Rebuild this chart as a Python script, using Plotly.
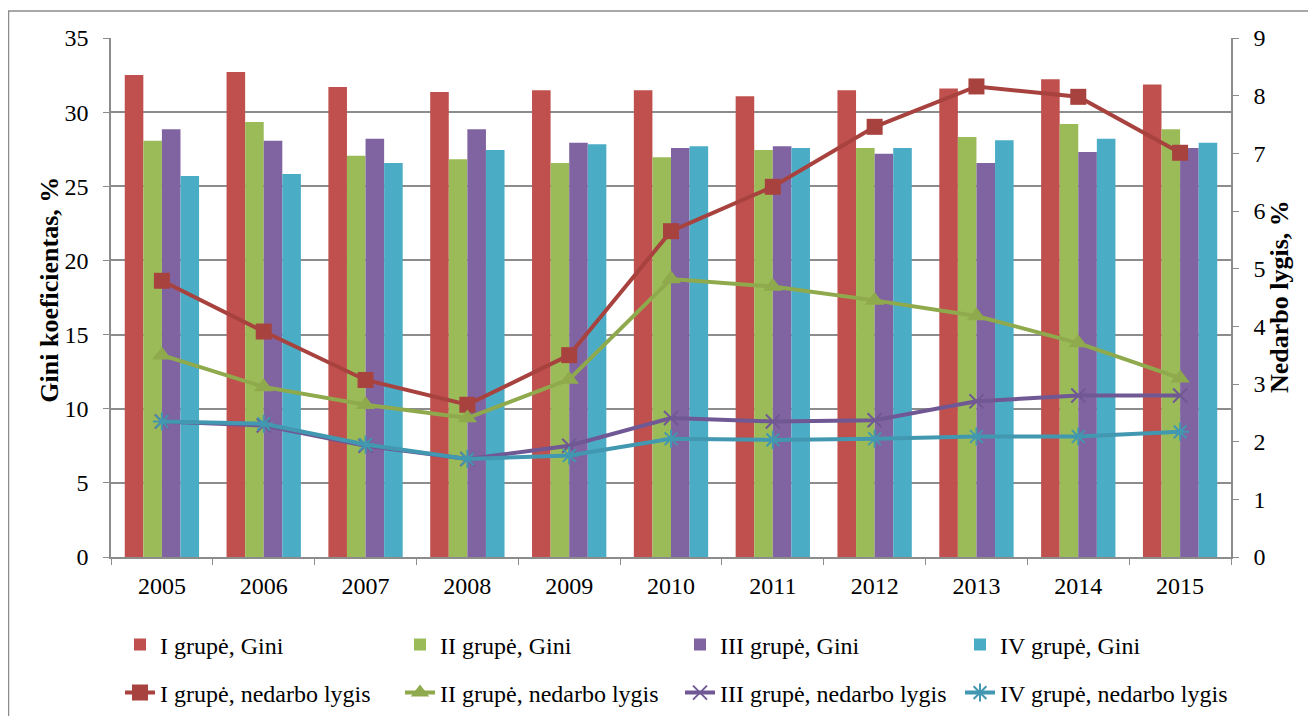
import plotly.graph_objects as go

years = ["2005", "2006", "2007", "2008", "2009", "2010", "2011", "2012", "2013", "2014", "2015"]

gini_I = [32.5, 32.7, 31.7, 31.35, 31.47, 31.47, 31.08, 31.47, 31.6, 32.21, 31.87]
gini_II = [28.07, 29.33, 27.06, 26.82, 26.57, 26.95, 27.45, 27.58, 28.32, 29.2, 28.84]
gini_III = [28.84, 28.07, 28.21, 28.84, 27.94, 27.58, 27.7, 27.2, 26.57, 27.31, 27.58]
gini_IV = [25.69, 25.83, 26.57, 27.45, 27.83, 27.7, 27.58, 27.58, 28.1, 28.21, 27.94]

unemp_I = [4.79, 3.91, 3.07, 2.64, 3.5, 5.65, 6.42, 7.46, 8.16, 7.98, 7.01]
unemp_II = [3.5, 2.95, 2.64, 2.41, 3.08, 4.82, 4.69, 4.45, 4.18, 3.71, 3.10]
unemp_III = [2.35, 2.28, 1.93, 1.70, 1.93, 2.41, 2.35, 2.37, 2.70, 2.80, 2.80]
unemp_IV = [2.35, 2.31, 1.95, 1.70, 1.76, 2.05, 2.03, 2.05, 2.09, 2.09, 2.17]

bar_names = ["I grupė, Gini", "II grupė, Gini", "III grupė, Gini", "IV grupė, Gini"]
line_names = ["I grupė, nedarbo lygis", "II grupė, nedarbo lygis",
              "III grupė, nedarbo lygis", "IV grupė, nedarbo lygis"]

bar_colors = ["#C0504D", "#9BBB59", "#8064A2", "#4BACC6"]
line_colors = ["#A8423F", "#8FAA4C", "#705894", "#4198B0"]

FONT = "Liberation Serif, Times New Roman, serif"
GRID = "#8c8c8c"

# page body adds an 8px offset; figure sized to fit inside the window
W, H = 1308, 708
L, R, T, B = 103, 85, 30, 159
PW = W - L - R
PH = H - T - B

fig = go.Figure()

for name, vals, col in zip(bar_names, [gini_I, gini_II, gini_III, gini_IV], bar_colors):
    fig.add_trace(go.Bar(x=years, y=vals, name=name, marker=dict(color=col, line=dict(width=0)),
                         legend="legend", yaxis="y"))

markers = [
    dict(symbol="square", size=16),
    dict(symbol="triangle-up", size=17),
    dict(symbol="x-thin-open", size=14, line=dict(width=2)),
    dict(symbol="asterisk-open", size=15, line=dict(width=2)),
]
for name, vals, col, mk in zip(line_names, [unemp_I, unemp_II, unemp_III, unemp_IV], line_colors, markers):
    m = dict(mk)
    m["color"] = col
    if "line" in m:
        m["line"] = dict(width=2, color=col)
    fig.add_trace(go.Scatter(x=years, y=vals, name=name, mode="lines+markers",
                             line=dict(color=col, width=4), marker=m,
                             legend="legend2", yaxis="y2"))

tf = dict(family=FONT, size=24, color="black")

fig.update_layout(
    width=W, height=H,
    margin=dict(l=L, r=R, t=T, b=B, autoexpand=False),
    paper_bgcolor="white", plot_bgcolor="white",
    font=dict(family=FONT, size=24, color="black"),
    barmode="group", bargap=0.27, bargroupgap=0,
    showlegend=True,
    xaxis=dict(type="category", range=[-0.5, 10.5], autorange=False, tickson="boundaries",
               ticks="outside", ticklen=6, tickcolor=GRID, showline=True, linecolor=GRID,
               linewidth=1.5, showgrid=False, tickfont=tf, ticklabelstandoff=6,
               automargin=False),
    yaxis=dict(range=[0, 35], dtick=5, ticks="outside", ticklen=6, tickcolor=GRID,
               showline=True, linecolor=GRID, linewidth=1.5, showgrid=True,
               gridcolor=GRID, gridwidth=1.5, zeroline=False, tickfont=tf,
               ticklabelstandoff=10, automargin=False),
    yaxis2=dict(range=[0, 9], dtick=1, overlaying="y", side="right", ticks="outside",
                ticklen=6, tickcolor=GRID, showline=True, linecolor=GRID, linewidth=1.5,
                showgrid=False, zeroline=False, tickfont=tf, ticklabelstandoff=10,
                automargin=False),
    legend=dict(orientation="h", xref="container", x=112 / W, xanchor="left",
                yref="container", y=(H - 637) / H, yanchor="middle",
                entrywidth=235, entrywidthmode="pixels", font=tf,
                bgcolor="rgba(0,0,0,0)", itemclick=False),
    legend2=dict(orientation="h", xref="container", x=112 / W, xanchor="left",
                 yref="container", y=(H - 685) / H, yanchor="middle",
                 entrywidth=235, entrywidthmode="pixels", font=tf,
                 bgcolor="rgba(0,0,0,0)", itemclick=False),
    annotations=[
        dict(text="<b>Gini koeficientas, %</b>", xref="paper", yref="paper",
             x=(42 - L) / PW, y=0.515, textangle=-90, showarrow=False,
             font=dict(size=26, family=FONT, color="black"), xanchor="center", yanchor="middle"),
        dict(text="<b>Nedarbo lygis, %</b>", xref="paper", yref="paper",
             x=(1272 - L) / PW, y=0.501, textangle=-90, showarrow=False,
             font=dict(size=26, family=FONT, color="black"), xanchor="center", yanchor="middle"),
    ],
    shapes=[
        dict(type="rect", xref="paper", yref="paper",
             x0=(0.5 - L) / PW, x1=1.25, y0=-0.6, y1=1 + (T - 3) / PH,
             line=dict(color=GRID, width=1.5), fillcolor="rgba(0,0,0,0)", layer="below"),
    ],
)

fig.write_html("out.html")
